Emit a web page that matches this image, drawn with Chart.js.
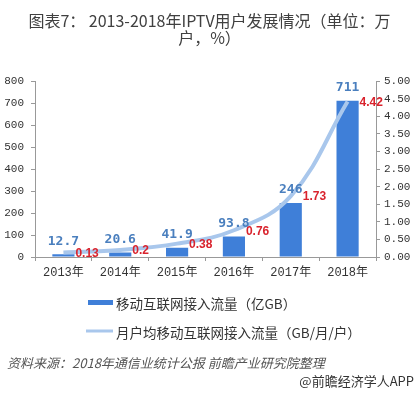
<!DOCTYPE html>
<html><head><meta charset="utf-8">
<script src="https://cdn.jsdelivr.net/npm/chart.js@4/dist/chart.umd.min.js"></script>
<style>html,body{margin:0;padding:0;background:#fff}#wrap{width:419px;height:394px}</style>
</head><body><div id="wrap"><canvas id="c" width="419" height="394"></canvas></div>
<script>
const categories = ['2013年','2014年','2015年','2016年','2017年','2018年'];
const flowValues = [12.7, 20.6, 41.9, 93.8, 246, 711];
const perUserValues = [0.13, 0.2, 0.38, 0.76, 1.73, 4.42];
const leftTicks = [0,100,200,300,400,500,600,700,800];
const rightTicks = [0,0.5,1,1.5,2,2.5,3,3.5,4,4.5,5];
const seriesNames = ['移动互联网接入流量（亿GB）','月户均移动互联网接入流量（GB/月/户）'];
const titleLines = ['图表7： 2013-2018年IPTV用户发展情况（单位：万','户，%）'];
const sourceText = '资料来源：2018年通信业统计公报 前瞻产业研究院整理';
const brandText = '@前瞻经济学人APP';

const BAR_COLOR = '#3f7fd8';
const LINE_COLOR = '#a9c7ec';
const MONO = "'Liberation Mono','DejaVu Sans Mono','Noto Sans CJK SC',monospace";
const CJK = "'Noto Sans CJK SC','DejaVu Sans',sans-serif";

const labelPlugin = {
  id: 'labels',
  afterDatasetsDraw(chart) {
    const ctx = chart.ctx;
    ctx.save();
    const barMeta = chart.getDatasetMeta(0);
    ctx.font = "bold 13px 'DejaVu Sans Mono',monospace";
    ctx.fillStyle = '#4a7fbe';
    ctx.textAlign = 'center';
    ctx.textBaseline = 'middle';
    barMeta.data.forEach((el, i) => {
      ctx.fillText(String(flowValues[i]), el.x, el.y - 13);
    });
    const lineMeta = chart.getDatasetMeta(1);
    ctx.font = "bold 12px 'Liberation Sans',Arial,sans-serif";
    ctx.fillStyle = '#d9232d';
    ctx.textAlign = 'left';
    lineMeta.data.forEach((el, i) => {
      ctx.fillText(String(perUserValues[i]), el.x + 12, el.y + 1);
    });
    ctx.restore();
  },
  afterDraw(chart) {
    const ctx = chart.ctx;
    ctx.save();
    // legend
    ctx.fillStyle = BAR_COLOR;
    ctx.fillRect(88, 300, 25, 5);
    ctx.strokeStyle = LINE_COLOR;
    ctx.lineWidth = 3;
    ctx.beginPath(); ctx.moveTo(86, 331); ctx.lineTo(113, 331); ctx.stroke();
    ctx.fillStyle = '#333';
    ctx.font = "13.5px " + CJK;
    ctx.textAlign = 'left';
    ctx.textBaseline = 'middle';
    ctx.fillText(seriesNames[0], 116, 304);
    ctx.fillText(seriesNames[1], 116, 333);
    // source
    ctx.font = "italic 13px " + CJK;
    ctx.fillStyle = '#555';
    ctx.fillText(sourceText, 7, 363);
    ctx.font = "13px " + CJK;
    ctx.fillStyle = '#333';
    ctx.textAlign = 'right';
    ctx.fillText(brandText, 414, 381);
    ctx.restore();
  }
};

new Chart(document.getElementById('c'), {
  data: {
    labels: categories,
    datasets: [
      { type: 'bar', label: seriesNames[0], data: flowValues, yAxisID: 'y',
        backgroundColor: BAR_COLOR, categoryPercentage: 1, barPercentage: 0.39, order: 2 },
      { type: 'line', label: seriesNames[1], data: perUserValues, yAxisID: 'y1',
        borderColor: LINE_COLOR, borderWidth: 4, pointRadius: 0, tension: 0.4,
        fill: false, order: 1 }
    ]
  },
  options: {
    responsive: false,
    animation: false,
    layout: { padding: { left: 0, right: 0, top: 0, bottom: 107 } },
    plugins: {
      legend: { display: false },
      tooltip: { enabled: false },
      title: { display: true, text: titleLines, color: '#404040',
        font: { family: CJK, size: 16, weight: 'normal', lineHeight: 1.1 },
        padding: { top: 12, bottom: 34 } }
    },
    scales: {
      x: {
        offset: true,
        grid: { display: true, drawOnChartArea: false, offset: true, tickLength: 4, color: '#999' },
        border: { display: true, color: '#999' },
        ticks: { color: '#333', font: { family: MONO, size: 12 }, padding: 5 },
        afterFit(s) { s.height = 30; }
      },
      y: {
        position: 'left', min: 0, max: 800,
        afterBuildTicks(s) { s.ticks = leftTicks.map(v => ({ value: v })); },
        grid: { drawOnChartArea: false, tickLength: 4, color: '#999' },
        border: { display: true, color: '#999' },
        ticks: { color: '#333', font: { family: MONO, size: 11 }, padding: 7 },
        afterFit(s) { s.width = 35; }
      },
      y1: {
        position: 'right', min: 0, max: 5,
        afterBuildTicks(s) { s.ticks = rightTicks.map(v => ({ value: v })); },
        grid: { drawOnChartArea: false, tickLength: 4, color: '#999' },
        border: { display: true, color: '#999' },
        ticks: { color: '#333', font: { family: MONO, size: 11 }, padding: 4,
          callback: v => Number(v).toFixed(2) },
        afterFit(s) { s.width = 43; }
      }
    }
  },
  plugins: [labelPlugin]
});
</script></body></html>
